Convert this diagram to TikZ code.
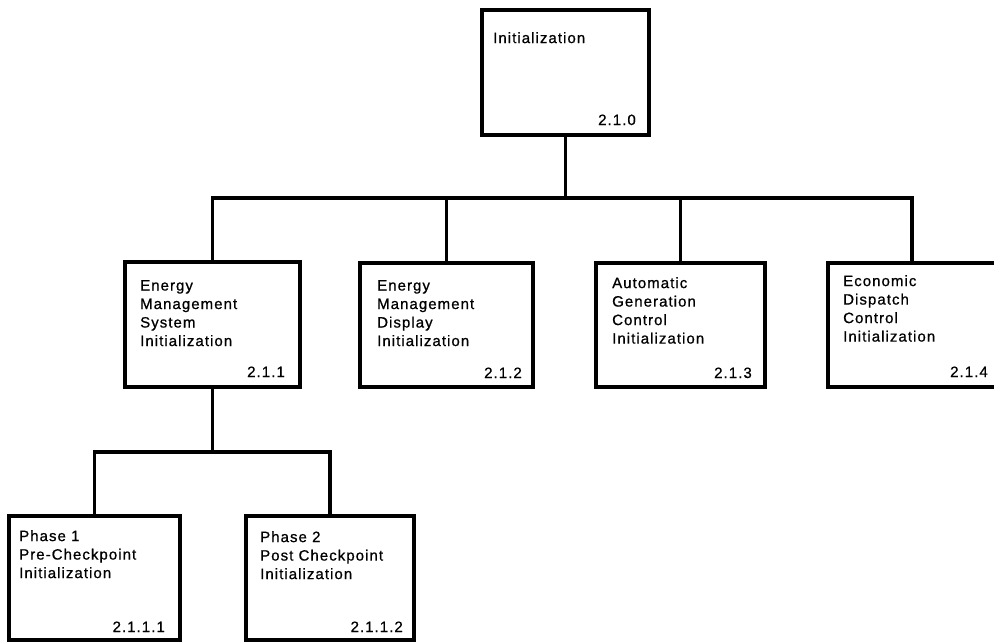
\documentclass[tikz,border=0pt]{standalone}
\usepackage{fontspec}
\setmainfont{Liberation Sans}
\newfontfamily\chartfont[LetterSpace=7,FakeBold=0.8]{Liberation Sans}
\begin{document}
\begin{tikzpicture}[x=1pt,y=-1pt,
  box/.style={draw, line width=3.2pt, line join=miter, inner sep=0pt, outer sep=0pt, anchor=north west},
  wire/.style={draw, line width=3.2pt, line join=miter},
  caption/.style={inner sep=0pt, align=left, anchor=north west, font=\chartfont\fontsize{15}{18.5}\selectfont},
  code/.style={inner sep=0pt, anchor=base east, font=\chartfont\fontsize{15}{18.5}\selectfont}]
\clip (0,0) rectangle (994,641);

% boxes
\node[box, minimum width=167pt, minimum height=125pt] (b0) at (482,10) {};
\node[box, minimum width=175pt, minimum height=125pt] (b1) at (125,262) {};
\node[box, minimum width=173pt, minimum height=124pt] (b2) at (360,263) {};
\node[box, minimum width=169pt, minimum height=124pt] (b3) at (596,263) {};
\node[box, minimum width=168pt, minimum height=124pt] (b4) at (828,263) {};
\node[box, minimum width=171pt, minimum height=124pt] (p1) at (9,516) {};
\node[box, minimum width=168pt, minimum height=124pt] (p2) at (246,516) {};

% titles
\node[caption] (t0) at (493,32) {Initialization};
\node[caption] (t1) at (140,280) {Energy\\Management\\System\\Initialization};
\node[caption] (t2) at (377,280) {Energy\\Management\\Display\\Initialization};
\node[caption] (t3) at (612,277) {Automatic\\Generation\\Control\\Initialization};
\node[caption] (t4) at (843,275) {Economic\\Dispatch\\Control\\Initialization};
\node[caption] (tp1) at (19,530) {Phase 1\\Pre-Checkpoint\\Initialization};
\node[caption] (tp2) at (260,531) {Phase 2\\Post Checkpoint\\Initialization};

% section numbers
\node[code] (n0) at (636,125) {2.1.0};
\node[code] (n1) at (285,377) {2.1.1};
\node[code] (n2) at (522,378) {2.1.2};
\node[code] (n3) at (752,378) {2.1.3};
\node[code] (n4) at (988,377) {2.1.4};
\node[code] (np1) at (165,632) {2.1.1.1};
\node[code] (np2) at (403,632) {2.1.1.2};

% bus lines
\coordinate (bus1) at (0,198);
\coordinate (bus2) at (0,452);

\draw[wire] (b0.south) -- (b0.south |- bus1);
\draw[wire] (b1.north) -- (b1.north |- bus1) -- (b4.north |- bus1) -- (b4.north);
\draw[wire] (b2.north) -- (b2.north |- bus1);
\draw[wire] (b3.north) -- (b3.north |- bus1);
\draw[wire] (b1.south) -- (b1.south |- bus2);
\draw[wire] (p1.north) -- (p1.north |- bus2) -- (p2.north |- bus2) -- (p2.north);
\end{tikzpicture}
\end{document}
